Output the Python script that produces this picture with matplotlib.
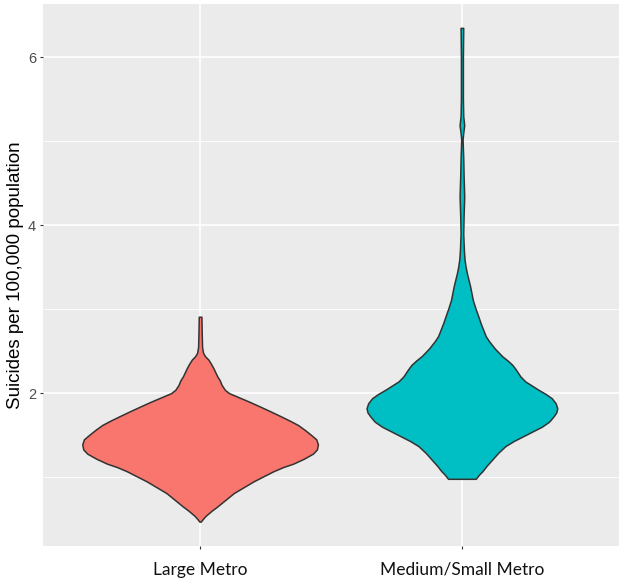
import numpy as np
import matplotlib.pyplot as plt

# ---------------- data (violin outlines) ----------------
categories = ["Large Metro", "Medium/Small Metro"]
colors = ["#F8766D", "#00BFC4"]

# Large Metro: y level and relative density (half width)
large_y = [0.47, 0.50, 0.54, 0.60, 0.65, 0.73, 0.81, 0.88, 0.95, 1.01, 1.07,
           1.12, 1.16, 1.22, 1.28, 1.33, 1.39, 1.45, 1.50, 1.56, 1.62, 1.67,
           1.72, 1.78, 1.84, 1.90, 1.96, 2.00, 2.04, 2.10, 2.15, 2.20, 2.25,
           2.30, 2.35, 2.40, 2.44, 2.48, 2.55, 2.70, 2.91]
large_d = [2, 8, 17, 35, 52, 77, 102, 132, 162, 192, 222,
           252, 282, 315, 342, 354, 357, 352, 337, 318, 297, 273,
           247, 215, 182, 148, 112, 88, 75, 65, 60, 52, 46,
           40, 33, 25, 15, 9, 6, 5, 4]

# Medium/Small Metro
small_y = [0.98, 1.03, 1.07, 1.14, 1.21, 1.29, 1.37, 1.43, 1.48, 1.54, 1.60,
           1.66, 1.72, 1.77, 1.82, 1.88, 1.94, 1.99, 2.04, 2.09, 2.14, 2.20,
           2.26, 2.30, 2.34, 2.39, 2.44, 2.53, 2.62, 2.68, 2.75, 2.83, 2.91,
           3.01, 3.11, 3.19, 3.27, 3.35, 3.43, 3.51, 3.59, 3.70, 3.90, 4.10,
           4.34, 4.60, 4.80, 5.02, 5.10, 5.19, 5.30, 5.50, 6.00, 6.35]
small_d = [42, 52, 62, 76, 92, 110, 132, 157, 182, 212, 242,
           264, 277, 286, 289, 284, 272, 254, 232, 212, 192, 177,
           167, 160, 152, 138, 122, 100, 82, 72, 65, 57, 50,
           41, 33, 29, 25, 20, 15, 11, 8, 6, 4, 5,
           7, 5, 4, 2, 4, 7, 4, 3, 3, 4]

y_ticks = [2, 4, 6]
ylabel = "Suicides per 100,000 population"

# ---------------- plot ----------------
fig = plt.figure(figsize=(6.25, 5.85), dpi=100)
ax = fig.add_axes([0.0688, 0.0667, 0.9216, 0.9273])
ax.set_facecolor("#EBEBEB")

dmax = max(max(large_d), max(small_d))
for i, (ys, ds) in enumerate([(large_y, large_d), (small_y, small_d)]):
    pos = i + 1
    hw = 0.45 * np.array(ds) / dmax
    ax.fill_betweenx(ys, pos - hw, pos + hw, facecolor=colors[i],
                     edgecolor="#333333", linewidth=1.1, zorder=3)

ax.set_xlim(0.4, 2.6)
ax.set_ylim(0.18, 6.64)
ax.set_xticks([1, 2])
ax.set_xticklabels(categories, fontsize=12.5, family="Lato", color="#111111")
ax.set_yticks(y_ticks)
ax.set_yticklabels([str(t) for t in y_ticks], fontsize=10.5, color="#4D4D4D",
                   family="Liberation Sans")
ax.set_yticks([1, 3, 5], minor=True)

ax.grid(which="major", color="white", linewidth=1.2, zorder=0)
ax.grid(which="minor", axis="y", color="white", linewidth=0.6, zorder=0)
ax.set_axisbelow(True)
for s in ax.spines.values():
    s.set_visible(False)
ax.tick_params(which="major", length=2.5, width=0.8, color="#333333", pad=2.5)
ax.tick_params(axis="x", pad=9)
ax.tick_params(which="minor", length=0)

ax.set_ylabel(ylabel, fontsize=13.5, family="Liberation Sans", labelpad=3)

fig.savefig("out.png", dpi=100)
